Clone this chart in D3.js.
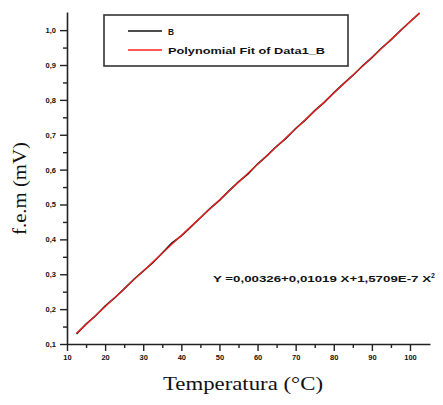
<!DOCTYPE html>
<html>
<head>
<meta charset="utf-8">
<script src="https://cdn.jsdelivr.net/npm/d3@7"></script>
<style>
  body { margin: 0; background: #fff; }
  .tick text { font-family: "Liberation Sans", sans-serif; font-weight: bold; font-size: 7.5px; fill: #111; }
</style>
</head>
<body>
<div id="chart"></div>
<script>
const temps = [12.5, 15, 17.5, 20, 22.5, 25, 27.5, 30, 32.5, 35, 37.5, 40, 42.5, 45, 47.5, 50,
  52.5, 55, 57.5, 60, 62.5, 65, 67.5, 70, 72.5, 75, 77.5, 80, 82.5, 85, 87.5, 90, 92.5, 95, 97.5, 100, 102.5];
const seriesB = [0.129, 0.157, 0.181, 0.209, 0.232, 0.258, 0.285, 0.309, 0.333, 0.361, 0.389, 0.410,
  0.436, 0.462, 0.488, 0.512, 0.539, 0.565, 0.588, 0.616, 0.640, 0.667, 0.690, 0.718, 0.742, 0.769,
  0.793, 0.820, 0.846, 0.870, 0.897, 0.921, 0.948, 0.972, 0.999, 1.024, 1.049];
const fitB = [0.131, 0.156, 0.182, 0.207, 0.233, 0.258, 0.284, 0.309, 0.335, 0.360, 0.386, 0.411,
  0.437, 0.462, 0.488, 0.513, 0.539, 0.564, 0.590, 0.615, 0.641, 0.666, 0.692, 0.717, 0.743, 0.768,
  0.794, 0.820, 0.845, 0.871, 0.896, 0.922, 0.947, 0.973, 0.998, 1.024, 1.049];
const xTicks = [10, 20, 30, 40, 50, 60, 70, 80, 90, 100];
const yTicks = [0.1, 0.2, 0.3, 0.4, 0.5, 0.6, 0.7, 0.8, 0.9, 1.0];
const legendLabels = ["B", "Polynomial Fit of Data1_B"];
const equation = "Y =0,00326+0,01019 X+1,5709E-7 X";

const width = 443;
const height = 405;

const svg = d3.select("#chart").append("svg")
  .attr("width", width)
  .attr("height", height);

const x = d3.scaleLinear().domain([10, 105.25]).range([67, 430]);
const y = d3.scaleLinear().domain([0.1, 1.052]).range([344, 12]);

const fmt = (d) => d3.format(".1f")(d).replace(".", ",");

// minor ticks first
svg.append("g")
  .attr("transform", "translate(0,344)")
  .call(d3.axisBottom(x).tickValues(d3.range(15, 105, 10)).tickSize(4).tickFormat(""))
  .call((g) => g.select(".domain").remove())
  .selectAll("line").attr("stroke", "#222").attr("stroke-width", 1.4);

svg.append("g")
  .attr("transform", "translate(67,0)")
  .call(d3.axisLeft(y).tickValues(d3.range(0.15, 1.0, 0.1)).tickSize(4).tickFormat(""))
  .call((g) => g.select(".domain").remove())
  .selectAll("line").attr("stroke", "#222").attr("stroke-width", 1.4);

// main axes
const xAxis = svg.append("g")
  .attr("transform", "translate(0,344)")
  .call(d3.axisBottom(x).tickValues(xTicks).tickSize(7).tickSizeOuter(0).tickPadding(4).tickFormat(d3.format("d")));
xAxis.select(".domain").attr("stroke", "#222").attr("stroke-width", 1.6);
xAxis.selectAll(".tick line").attr("stroke", "#222").attr("stroke-width", 1.4);

const yAxis = svg.append("g")
  .attr("transform", "translate(67,0)")
  .call(d3.axisLeft(y).tickValues(yTicks).tickSize(7).tickSizeOuter(0).tickPadding(4).tickFormat(fmt));
yAxis.select(".domain").attr("stroke", "#222").attr("stroke-width", 1.6);
yAxis.selectAll(".tick line").attr("stroke", "#222").attr("stroke-width", 1.4);

// lines
const line = d3.line()
  .x((d, i) => x(temps[i]))
  .y((d) => y(d));

svg.append("path")
  .datum(seriesB)
  .attr("fill", "none")
  .attr("stroke", "#111")
  .attr("stroke-width", 1.6)
  .attr("d", line);

svg.append("path")
  .datum(fitB)
  .attr("fill", "none")
  .attr("stroke", "#ff2020")
  .attr("stroke-width", 1.2)
  .attr("d", line);

// legend
const legend = svg.append("g");
legend.append("rect")
  .attr("x", 104).attr("y", 15).attr("width", 244).attr("height", 51)
  .attr("fill", "none").attr("stroke", "#333").attr("stroke-width", 1.6);
const legendColors = ["#111", "#ff2020"];
const legendWidths = [6, 157];
legendLabels.forEach((lab, i) => {
  const ly = 31 + i * 19;
  legend.append("line")
    .attr("x1", 128).attr("x2", 162).attr("y1", ly).attr("y2", ly)
    .attr("stroke", legendColors[i]).attr("stroke-width", 1.5);
  legend.append("text")
    .attr("x", 168).attr("y", ly + 3.5)
    .attr("font-family", "Liberation Sans, sans-serif")
    .attr("font-weight", "bold")
    .attr("font-size", 9)
    .attr("fill", "#111")
    .attr("textLength", legendWidths[i])
    .attr("lengthAdjust", "spacingAndGlyphs")
    .text(lab);
});

// equation
const eq = svg.append("text")
  .attr("x", 213).attr("y", 282)
  .attr("font-family", "Liberation Sans, sans-serif")
  .attr("font-weight", "bold")
  .attr("font-size", 9.5)
  .attr("fill", "#111");
eq.append("tspan")
  .attr("textLength", 218)
  .attr("lengthAdjust", "spacingAndGlyphs")
  .text(equation);
eq.append("tspan").attr("dy", -4).attr("font-size", 7).text("2");

// axis titles
svg.append("text")
  .attr("x", 163).attr("y", 390)
  .attr("font-family", "Liberation Serif, serif")
  .attr("font-size", 18)
  .attr("fill", "#111")
  .attr("textLength", 160)
  .attr("lengthAdjust", "spacingAndGlyphs")
  .text("Temperatura (°C)");

svg.append("text")
  .attr("transform", "translate(26,235) rotate(-90)")
  .attr("font-family", "Liberation Serif, serif")
  .attr("font-size", 18)
  .attr("fill", "#111")
  .attr("textLength", 93)
  .attr("lengthAdjust", "spacingAndGlyphs")
  .text("f.e.m (mV)");
</script>
</body>
</html>
